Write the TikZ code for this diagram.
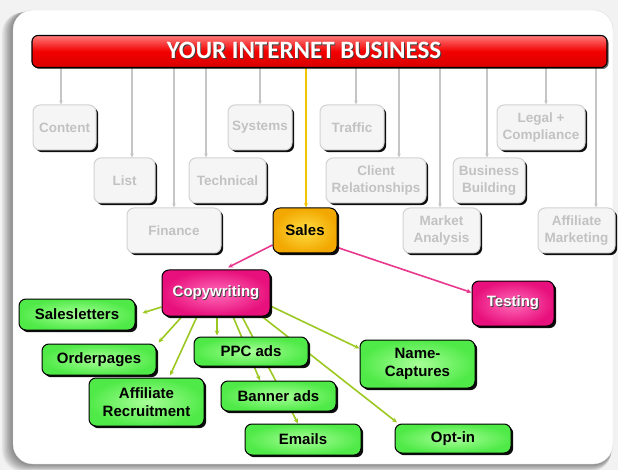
\documentclass[tikz,border=0pt]{standalone}
\usepackage{fontspec}
\setmainfont{Liberation Sans}
\newfontfamily\hdrfont{Carlito}
\usetikzlibrary{shadows,arrows.meta}
\pgfdeclarelayer{panel}
\pgfdeclarelayer{links}
\pgfsetlayers{panel,links,main}
\definecolor{gbox}{HTML}{F5F5F5}
\definecolor{gborder}{HTML}{D2D2D2}
\definecolor{gtext}{HTML}{C2C2C2}
\definecolor{gline}{HTML}{C6C6C6}
\definecolor{yline}{HTML}{F5C400}
\definecolor{pline}{HTML}{E8398F}
\definecolor{grline}{HTML}{9CC822}
\definecolor{greenin}{HTML}{A8FF98}
\definecolor{greenout}{HTML}{50EA48}
\definecolor{pinkin}{HTML}{FF6CBA}
\definecolor{pinkout}{HTML}{E8107C}
\definecolor{salesin}{HTML}{FFDD44}
\definecolor{salesout}{HTML}{F2A800}
\definecolor{redtop}{HTML}{FF7A7A}
\definecolor{redmid}{HTML}{F20000}
\definecolor{redbot}{HTML}{D80000}
\newcommand\wsh[1]{\makebox[0pt][l]{\hspace{0.9pt}\raisebox{-0.9pt}{\color{black!75}#1}}{\color{white}#1}}
\tikzset{
  basebox/.style={rounded corners=7pt, align=center, inner sep=1pt,
    font=\bfseries\fontsize{15}{18}\selectfont,
    drop shadow={shadow xshift=2.2pt, shadow yshift=-2.2pt, opacity=0.95, fill=black}},
  greybox/.style={basebox, draw=gborder, line width=1pt, fill=gbox, text=gtext,
    font=\bfseries\fontsize{13.5}{16.5}\selectfont},
  greenbox/.style={basebox, draw=black, line width=1pt, inner color=greenin, outer color=greenout},
  pinkbox/.style={basebox, draw=black, line width=1pt, inner color=pinkin, outer color=pinkout},
  salesbox/.style={basebox, draw=black, line width=1pt, inner color=salesin, outer color=salesout},
  gl/.style={draw=gline, line width=1.3pt, -{Stealth[length=4pt,width=3.5pt]}},
  yl/.style={draw=yline, line width=1.4pt, -{Stealth[length=4.5pt,width=4pt]}},
  pl/.style={draw=pline, line width=1.6pt, -{Stealth[length=5pt,width=4.5pt]}},
  grl/.style={draw=grline, line width=1.6pt, -{Stealth[length=5pt,width=4.5pt]}},
}
\begin{document}
\begin{tikzpicture}[x=1pt,y=-1pt]
\useasboundingbox (0,0) rectangle (618,470);
\begin{pgfonlayer}{panel}
  \fill[white!95!black] (0,0) rectangle (618,470);
  \foreach \i in {1,...,9}
    \fill[black,opacity=0.055,rounded corners=20pt] (13-1.2*\i,10+0.3*\i) rectangle (613-0.2*\i,464+0.8*\i);
  \fill[white,draw=black!12,rounded corners=20pt] (13,10) rectangle (613,464);
\end{pgfonlayer}

% header
\node[draw=black, line width=1.1pt, rounded corners=6pt, minimum width=575pt, minimum height=32pt,
      top color=redtop, bottom color=redbot, middle color=redmid,
      drop shadow={shadow xshift=1.5pt, shadow yshift=-1.5pt, opacity=0.6, fill=black}]
  (hdr) at (319.5,51.5) {};
\node[font=\hdrfont\bfseries\fontsize{25}{27}\selectfont] (hdrtext) at (304,50.5) {\wsh{YOUR INTERNET BUSINESS}};

% grey boxes
\node[greybox, minimum width=63pt, minimum height=45pt] (content) at (64.5,127.5) {Content};
\node[greybox, minimum width=61pt, minimum height=45pt] (list) at (124.5,180.5) {List};
\node[greybox, minimum width=94pt, minimum height=45pt] (finance) at (174,230.5) {Finance};
\node[greybox, minimum width=77pt, minimum height=45pt] (technical) at (227.5,180.5) {Technical};
\node[greybox, minimum width=64pt, minimum height=45pt] (systems) at (260,127.5) {Systems};
\node[greybox, minimum width=64pt, minimum height=45pt] (traffic) at (352,127.5) {Traffic};
\node[greybox, minimum width=100pt, minimum height=45pt] (client) at (376,180.5) {Client\\Relationships};
\node[greybox, minimum width=77pt, minimum height=45pt] (market) at (441.5,230.5) {Market\\Analysis};
\node[greybox, minimum width=72pt, minimum height=45pt] (business) at (489,180.5) {Business\\Building};
\node[greybox, minimum width=88pt, minimum height=45pt] (legal) at (541,127.5) {Legal +\\Compliance};
\node[greybox, minimum width=77pt, minimum height=45pt] (affmkt) at (576.5,230.5) {Affiliate\\Marketing};

% coloured boxes
\node[salesbox, minimum width=64pt, minimum height=45pt] (sales) at (305,230.5) {Sales};
\node[pinkbox, minimum width=108pt, minimum height=46pt] (copy) at (216,293) {\wsh{Copywriting}};
\node[pinkbox, minimum width=82pt, minimum height=45pt] (testing) at (513,303.5) {\wsh{Testing}};
\node[greenbox, minimum width=116pt, minimum height=31pt] (salesletters) at (77,314.5) {Salesletters};
\node[greenbox, minimum width=114pt, minimum height=31pt] (orderpages) at (99,359.5) {Orderpages};
\node[greenbox, minimum width=115pt, minimum height=48pt] (affrec) at (146.5,402) {Affiliate\\Recruitment};
\node[greenbox, minimum width=114pt, minimum height=29pt] (ppc) at (251,351.5) {PPC ads};
\node[greenbox, minimum width=115pt, minimum height=30pt] (banner) at (278.5,396) {Banner ads};
\node[greenbox, minimum width=116pt, minimum height=31pt] (emails) at (303,439.5) {Emails};
\node[greenbox, minimum width=115pt, minimum height=48pt] (name) at (417.5,364) {Name-\\Captures};
\node[greenbox, minimum width=116pt, minimum height=29pt] (optin) at (453,438.5) {Opt-in};

\begin{pgfonlayer}{links}
  \draw[gl] ([xshift=-3.5pt]content.north |- hdr.south) -- ([xshift=-3.5pt]content.north);
  \draw[gl] ([xshift=7.5pt]list.north |- hdr.south) -- ([xshift=7.5pt]list.north);
  \draw[gl] (finance.north |- hdr.south) -- (finance.north);
  \draw[gl] ([xshift=-21.5pt]technical.north |- hdr.south) -- ([xshift=-21.5pt]technical.north);
  \draw[gl] (systems.north |- hdr.south) -- (systems.north);
  \draw[gl] ([xshift=4pt]traffic.north |- hdr.south) -- ([xshift=4pt]traffic.north);
  \draw[gl] ([xshift=23pt]client.north |- hdr.south) -- ([xshift=23pt]client.north);
  \draw[gl] ([xshift=-1.5pt]market.north |- hdr.south) -- ([xshift=-1.5pt]market.north);
  \draw[gl] ([xshift=-2pt]business.north |- hdr.south) -- ([xshift=-2pt]business.north);
  \draw[gl] ([xshift=5pt]legal.north |- hdr.south) -- ([xshift=5pt]legal.north);
  \draw[gl] ([xshift=19.5pt]affmkt.north |- hdr.south) -- ([xshift=19.5pt]affmkt.north);
  \draw[yl] ([xshift=1pt]sales.north |- hdr.south) -- ([xshift=1pt]sales.north);
  \draw[pl] ([yshift=-14.5pt]sales.west) -- ([xshift=12pt,yshift=2pt]copy.north);
  \draw[pl] ([yshift=-17pt]sales.east) -- ([yshift=-12pt]testing.north west);
  \draw[grl] ([yshift=-14pt]copy.west) -- ([xshift=7pt,yshift=1.5pt]salesletters.east);
  \draw[grl] ([xshift=-34pt]copy.south) -- ([xshift=2pt,yshift=1pt]orderpages.north east);
  \draw[grl] ([xshift=-19pt]copy.south) -- ([xshift=23.5pt,yshift=2pt]affrec.north);
  \draw[grl] ([xshift=1pt]copy.south) -- ([xshift=-34pt,yshift=1pt]ppc.north);
  \draw[grl] ([xshift=17pt]copy.south) -- ([xshift=-18.5pt]banner.north);
  \draw[grl] ([xshift=26pt]copy.south) -- ([xshift=-5pt]emails.north);
  \draw[grl] ([xshift=46pt]copy.south) -- ([xshift=-56pt,yshift=1pt]optin.north);
  \draw[grl] ([yshift=-13pt]copy.east) -- ([yshift=-9pt]name.north west);
\end{pgfonlayer}
\end{tikzpicture}
\end{document}
